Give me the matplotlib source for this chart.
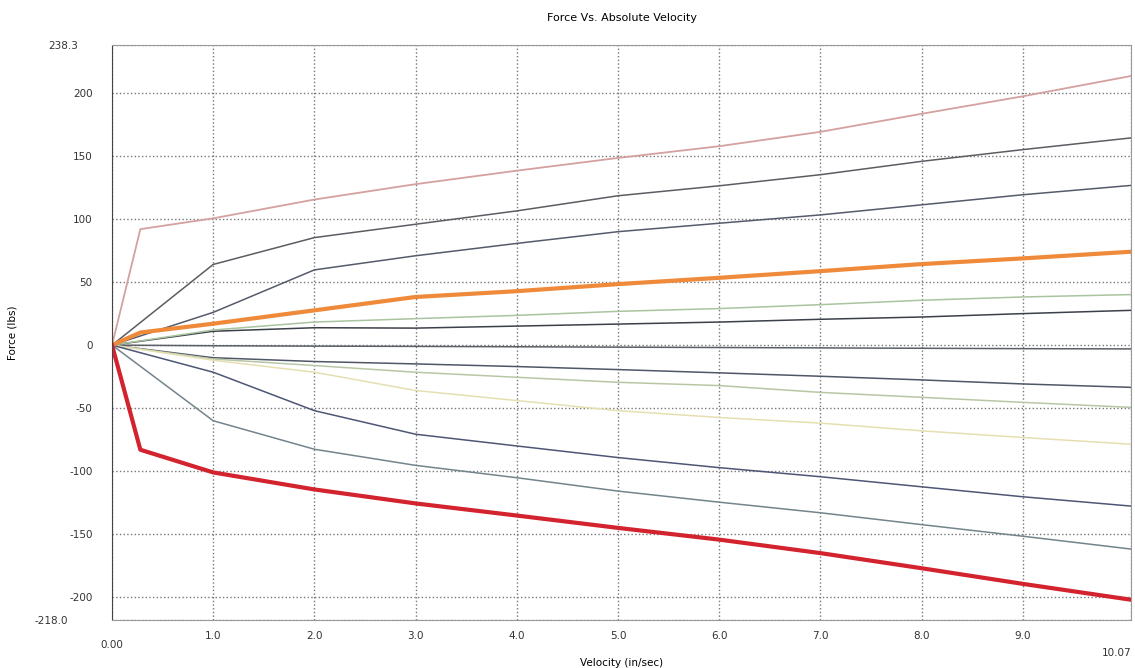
import matplotlib.pyplot as plt

# velocidades (in/sec)
vel = [0.0, 1.0, 2.0, 3.0, 4.0, 5.0, 6.0, 7.0, 8.0, 9.0, 10.07]
vel_knee = [0.0, 0.28, 1.0, 2.0, 3.0, 4.0, 5.0, 6.0, 7.0, 8.0, 9.0, 10.07]

# curvas con rodilla a 0.28 in/sec
f_pink = [0, 92, 100.6, 115.5, 127.7, 138.4, 148.5, 157.8, 169.2, 183.5, 197.4, 213.5]
f_orange = [0, 10, 17, 27.6, 38.2, 42.8, 48.4, 53.4, 58.7, 64.3, 68.8, 74.1]
f_red = [0, -83, -101, -114.5, -125.6, -135.2, -145, -154.3, -165, -177, -189.4, -202]

# resto de curvas
f_grey1 = [0, 64, 85.3, 95.9, 106.5, 118.5, 126.4, 135.2, 145.8, 155.1, 164.4]
f_grey2 = [0, 26, 59.7, 70.9, 80.7, 90, 96.7, 103.3, 111.3, 119.3, 126.7]
f_green = [0, 12, 18.3, 21, 23.6, 26.8, 29, 32.1, 35.6, 38.2, 40.1]
f_dark = [0, 11, 13.8, 13.5, 15.1, 16.7, 18.3, 20.5, 22.3, 25, 27.6]
f_flat = [0, -0.5, -0.8, -1.0, -1.3, -1.6, -1.9, -2.2, -2.5, -2.8, -3.0]
f_neg1 = [0, -10, -13, -14.9, -17, -19.4, -22, -24.7, -27.6, -30.8, -33.5]
f_neg2 = [0, -11, -16.2, -21.5, -25.5, -29.5, -32.1, -37.5, -41.4, -45.4, -49.4]
f_neg3 = [0, -12, -21.5, -36, -44, -52, -57.4, -61.9, -68, -73.3, -78.6]
f_neg4 = [0, -21.5, -52, -70.7, -80, -89.2, -97.2, -104.4, -112.4, -120.3, -127.7]
f_neg5 = [0, -60, -82.6, -95.4, -105.2, -115.8, -124.6, -133, -142.4, -151.6, -161.8]

x_ticks = [0.0, 1.0, 2.0, 3.0, 4.0, 5.0, 6.0, 7.0, 8.0, 9.0, 10.07]
x_labels = ["0.00", "1.0", "2.0", "3.0", "4.0", "5.0", "6.0", "7.0", "8.0", "9.0", "10.07"]
y_ticks = [238.3, 200, 150, 100, 50, 0, -50, -100, -150, -200, -218.0]
y_labels = ["238.3", "200", "150", "100", "50", "0", "-50", "-100", "-150", "-200", "-218.0"]

fig = plt.figure(figsize=(11.35, 6.68), dpi=100)
ax = fig.add_axes([0.0987, 0.072, 0.8978, 0.861])

ax.plot(vel, f_flat, color="#5a5f66", linewidth=1.1)
ax.plot(vel, f_neg1, color="#4f5666", linewidth=1.1)
ax.plot(vel, f_neg2, color="#b9c6a6", linewidth=1.1)
ax.plot(vel, f_neg3, color="#e6dfb2", linewidth=1.1)
ax.plot(vel, f_neg4, color="#4e5676", linewidth=1.1)
ax.plot(vel, f_neg5, color="#74848c", linewidth=1.1)
ax.plot(vel, f_dark, color="#3c4048", linewidth=1.1)
ax.plot(vel, f_green, color="#a9c4a0", linewidth=1.1)
ax.plot(vel, f_grey2, color="#555b6a", linewidth=1.1)
ax.plot(vel, f_grey1, color="#5c5c62", linewidth=1.1)
ax.plot(vel_knee, f_pink, color="#d4a0a0", linewidth=1.3)
ax.plot(vel_knee, f_orange, color="#ee8a3a", linewidth=3)
ax.plot(vel_knee, f_red, color="#d2232e", linewidth=3)

ax.set_xlim(0, 10.07)
ax.set_ylim(-218.0, 238.3)
ax.set_xticks(x_ticks)
ax.set_xticklabels(x_labels)
ax.set_yticks(y_ticks)
ax.set_yticklabels(y_labels)
ax.tick_params(length=0, labelsize=7.5, colors="#333333")
ax.tick_params(axis="x", pad=8)
ax.tick_params(axis="y", pad=14)

# etiquetas extremas desplazadas como en el original
for lab in ax.get_xticklabels():
    if lab.get_text() == "0.00":
        lab.set_y(-0.015)
    if lab.get_text() == "10.07":
        lab.set_y(-0.03)
        lab.set_horizontalalignment("right")
        lab.set_x(10.07)
for lab in ax.get_yticklabels():
    if lab.get_text() == "238.3":
        lab.set_x(-0.014)
    if lab.get_text() == "-218.0":
        lab.set_x(-0.024)

ax.grid(True, linestyle=":", color="#777777", linewidth=1.0)
for side in ("top", "right", "bottom"):
    ax.spines[side].set_color("#999999")
ax.spines["left"].set_color("#444444")

ax.set_title("Force Vs. Absolute Velocity", fontsize=8, pad=17)
ax.set_xlabel("Velocity (in/sec)", fontsize=7.5, labelpad=0)
ax.set_ylabel("Force (lbs)", fontsize=7.5)
ax.yaxis.set_label_coords(-0.093, 0.5)

fig.savefig("out.png", dpi=100)
plt.close(fig)
